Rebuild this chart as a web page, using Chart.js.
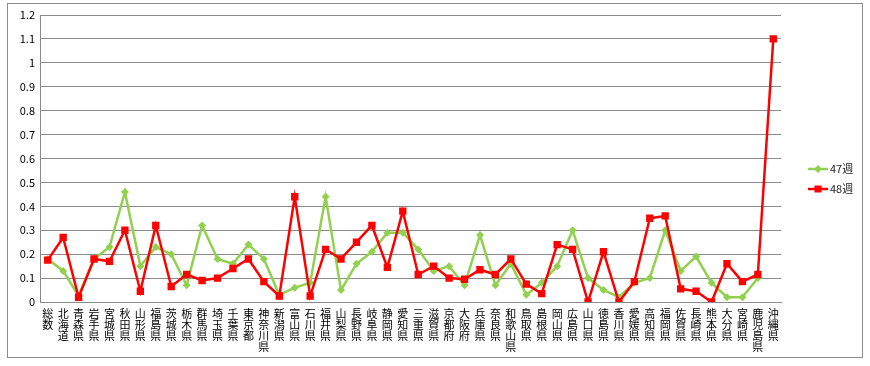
<!DOCTYPE html>
<html>
<head>
<meta charset="utf-8">
<script src="https://cdn.jsdelivr.net/npm/chart.js@4/dist/chart.umd.min.js"></script>
<style>
  html, body { margin: 0; padding: 0; background: #fff; }
  canvas { display: block; }
</style>
</head>
<body>
<canvas id="chart" width="870" height="366"></canvas>
<script>
// 都道府県別 定点当たり報告数（47週 / 48週）
const categories = [
  '総数', '北海道', '青森県', '岩手県', '宮城県', '秋田県', '山形県', '福島県',
  '茨城県', '栃木県', '群馬県', '埼玉県', '千葉県', '東京都', '神奈川県', '新潟県',
  '富山県', '石川県', '福井県', '山梨県', '長野県', '岐阜県', '静岡県', '愛知県',
  '三重県', '滋賀県', '京都府', '大阪府', '兵庫県', '奈良県', '和歌山県', '鳥取県',
  '島根県', '岡山県', '広島県', '山口県', '徳島県', '香川県', '愛媛県', '高知県',
  '福岡県', '佐賀県', '長崎県', '熊本県', '大分県', '宮崎県', '鹿児島県', '沖縄県'
];

const week47 = [
  0.18, 0.13, 0.025, 0.18, 0.23, 0.46, 0.15, 0.23,
  0.20, 0.07, 0.32, 0.18, 0.16, 0.24, 0.18, 0.03,
  0.06, 0.08, 0.44, 0.05, 0.16, 0.21, 0.29, 0.29,
  0.22, 0.13, 0.15, 0.07, 0.28, 0.07, 0.16, 0.03,
  0.08, 0.15, 0.30, 0.10, 0.05, 0.02, 0.08, 0.10,
  0.30, 0.13, 0.19, 0.08, 0.02, 0.02, 0.10, null
];

const week48 = [
  0.175, 0.27, 0.02, 0.18, 0.17, 0.30, 0.045, 0.32,
  0.065, 0.115, 0.09, 0.10, 0.14, 0.18, 0.085, 0.025,
  0.44, 0.025, 0.22, 0.18, 0.25, 0.32, 0.145, 0.38,
  0.115, 0.15, 0.10, 0.095, 0.135, 0.115, 0.18, 0.075,
  0.035, 0.24, 0.22, 0.00, 0.21, 0.00, 0.085, 0.35,
  0.36, 0.055, 0.045, 0.00, 0.16, 0.085, 0.115, 1.10
];

const seriesNames = ['47週', '48週'];
const yMax = 1.2;
const yStep = 0.1;

const FONT = '"Noto Sans CJK JP", "Noto Sans", sans-serif';
const GREEN = '#92D050';
const RED = '#FF0000';
const GRID = '#8a8a8a';

// Outer frame like the spreadsheet chart object
const framePlugin = {
  id: 'frame',
  beforeDraw(chart) {
    const ctx = chart.ctx;
    ctx.save();
    ctx.fillStyle = '#fff';
    ctx.fillRect(0, 0, chart.width, chart.height);
    ctx.strokeStyle = '#8c8c8c';
    ctx.lineWidth = 1;
    ctx.strokeRect(7.5, 3.5, 855, 354);
    ctx.restore();
  }
};

// Legend with a short line + marker, like Excel
const legendPlugin = {
  id: 'lineLegend',
  afterDraw(chart) {
    const ctx = chart.ctx;
    const items = [
      { text: seriesNames[0], color: GREEN, shape: 'diamond', y: 169 },
      { text: seriesNames[1], color: RED, shape: 'square', y: 189 },
    ];
    ctx.save();
    items.forEach(it => {
      ctx.strokeStyle = it.color;
      ctx.fillStyle = it.color;
      ctx.lineWidth = 2.5;
      ctx.beginPath();
      ctx.moveTo(808, it.y);
      ctx.lineTo(828, it.y);
      ctx.stroke();
      ctx.beginPath();
      if (it.shape === 'diamond') {
        ctx.moveTo(818, it.y - 4);
        ctx.lineTo(822, it.y);
        ctx.lineTo(818, it.y + 4);
        ctx.lineTo(814, it.y);
        ctx.closePath();
      } else {
        ctx.rect(814.5, it.y - 3.5, 7, 7);
      }
      ctx.fill();
      ctx.fillStyle = '#222';
      ctx.font = '11px ' + FONT;
      ctx.textBaseline = 'middle';
      ctx.textAlign = 'left';
      ctx.fillText(it.text, 830, it.y);
    });
    ctx.restore();
  }
};

new Chart(document.getElementById('chart'), {
  type: 'line',
  data: {
    labels: categories.map(c => c.split('')),
    datasets: [
      {
        label: seriesNames[0],
        data: week47,
        borderColor: GREEN,
        backgroundColor: GREEN,
        borderWidth: 2.5,
        pointStyle: 'rectRot',
        pointRadius: 4,
        pointBorderWidth: 0,
        tension: 0,
        order: 1,
      },
      {
        label: seriesNames[1],
        data: week48,
        borderColor: RED,
        backgroundColor: RED,
        borderWidth: 2.5,
        pointStyle: 'rect',
        pointRadius: 5.2,
        pointBorderWidth: 0,
        tension: 0,
        order: 0,
      }
    ]
  },
  options: {
    responsive: false,
    animation: false,
    layout: { padding: { left: 7, top: 15, right: 89, bottom: 0 } },
    plugins: {
      legend: { display: false },
      tooltip: { enabled: false },
    },
    scales: {
      x: {
        offset: true,
        grid: { display: false, drawTicks: false },
        border: { display: true, color: GRID, width: 1 },
        ticks: {
          autoSkip: false,
          maxRotation: 0,
          minRotation: 0,
          padding: 6,
          color: '#000',
          font: { family: FONT, size: 11, lineHeight: 1.0 },
        },
        afterFit: (scale) => { scale.height = 64; },
      },
      y: {
        min: 0,
        max: yMax,
        grid: { color: GRID, lineWidth: 1, drawTicks: false },
        border: { display: true, color: GRID, width: 1 },
        ticks: {
          stepSize: yStep,
          padding: 5,
          color: '#000',
          font: { family: FONT, size: 11 },
          callback: (v) => String(Math.round(v * 10) / 10),
        },
        afterFit: (scale) => { scale.width = 33; },
      }
    }
  },
  plugins: [framePlugin, legendPlugin]
});
</script>
</body>
</html>
